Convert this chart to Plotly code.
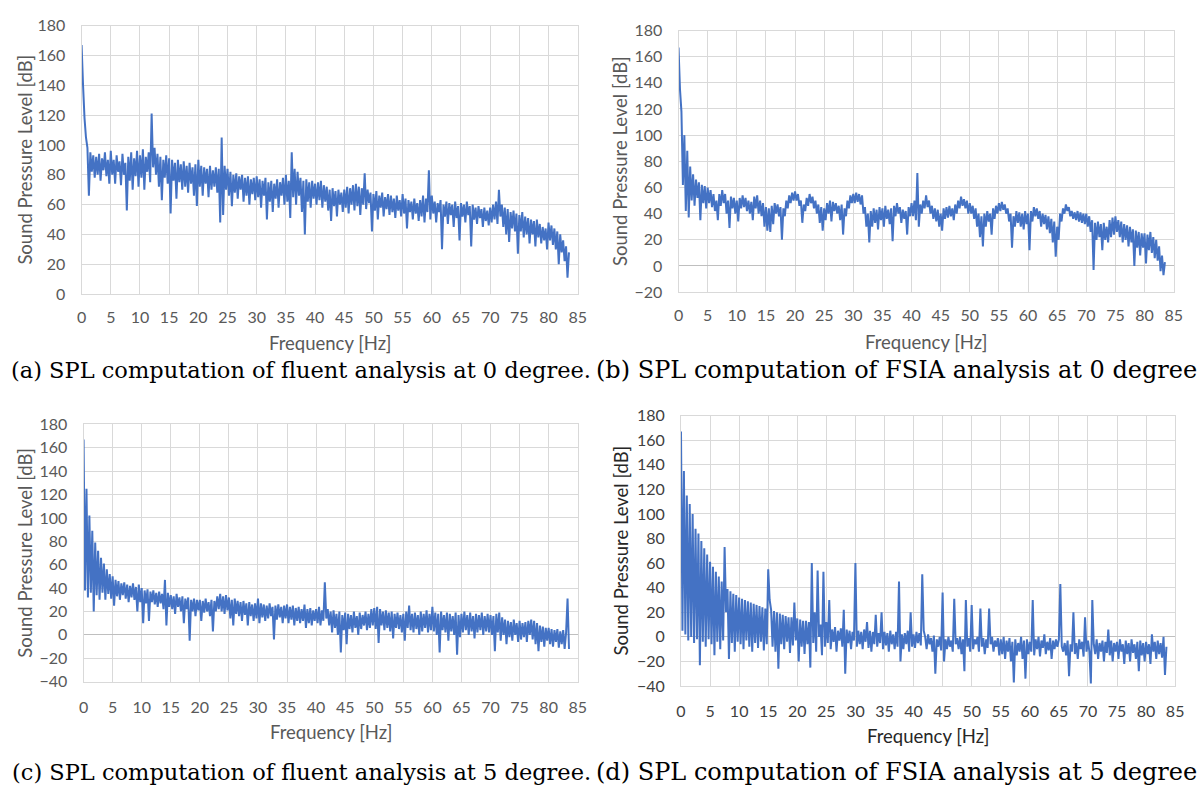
import plotly.graph_objects as go

W, H = 1197, 799
FREQ_STEP = 0.25  # Hz between read-off samples

# ---------------- data (SPL in dB, one value every 0.25 Hz, 0 .. 83.5 Hz) ----------------
spl_a = [
    167, 140, 118, 105, 98, 66, 95, 82, 93, 78, 92, 80, 94, 76, 91, 83, 95, 79, 90, 74,   # 0-5
    96, 80, 90, 74, 93, 82, 89, 73, 94, 80, 88, 56, 92, 76, 95, 70, 91, 79, 96, 72,       # 5-10
    93, 78, 97, 70, 92, 82, 95, 75, 121, 85, 98, 80, 94, 72, 92, 63, 90, 78, 93, 74,      # 10-15
    91, 54, 90, 76, 88, 64, 90, 75, 87, 70, 89, 72, 86, 68, 88, 74, 85, 66, 87, 59,       # 15-20
    90, 72, 86, 66, 85, 74, 84, 65, 86, 70, 83, 72, 85, 68, 84, 48, 105, 53, 86, 70,      # 20-25
    84, 66, 82, 59, 80, 68, 81, 64, 79, 70, 80, 62, 78, 66, 79, 60, 77, 67, 78, 63,       # 25-30
    79, 65, 77, 58, 76, 66, 78, 50, 75, 62, 76, 55, 74, 64, 77, 58, 75, 66, 78, 60,       # 30-35
    80, 62, 76, 51, 95, 65, 84, 60, 82, 66, 78, 55, 76, 40, 77, 62, 75, 58, 76, 64,       # 35-40
    74, 60, 75, 63, 76, 58, 73, 62, 72, 56, 70, 49, 71, 59, 69, 52, 70, 60, 68, 55,       # 40-45
    70, 58, 72, 54, 71, 60, 73, 56, 74, 59, 72, 53, 71, 60, 81, 57, 70, 61, 68, 42,       # 45-50
    67, 56, 69, 50, 66, 58, 68, 52, 65, 57, 67, 53, 66, 55, 64, 51, 66, 56, 63, 52,       # 50-55
    67, 54, 64, 44, 63, 55, 62, 50, 64, 54, 61, 49, 63, 52, 66, 48, 64, 55, 83, 50,       # 55-60
    66, 54, 62, 48, 61, 55, 63, 30, 60, 52, 62, 47, 61, 53, 60, 45, 62, 51, 59, 36,       # 60-65
    61, 52, 60, 48, 62, 53, 59, 32, 60, 50, 58, 47, 59, 51, 57, 45, 58, 49, 56, 46,       # 65-70
    58, 48, 60, 50, 62, 47, 70, 52, 60, 45, 58, 40, 57, 35, 55, 44, 56, 42, 54, 27,       # 70-75
    53, 42, 55, 38, 52, 40, 51, 34, 50, 40, 49, 32, 50, 38, 47, 34, 45, 36, 44, 30,       # 75-80
    48, 36, 46, 33, 44, 30, 42, 20, 40, 28, 36, 22, 32, 11, 28,                           # 80-83.5
]

spl_b = [
    167, 135, 118, 62, 100, 42, 88, 37, 76, 50, 70, 46, 66, 52, 64, 35, 62, 48, 61, 44,
    60, 48, 58, 45, 55, 42, 50, 35, 55, 46, 58, 48, 55, 40, 50, 29, 53, 44, 52, 40,
    50, 34, 52, 44, 54, 45, 52, 42, 50, 40, 49, 35, 53, 44, 54, 40, 50, 38, 48, 30,
    45, 27, 44, 26, 46, 32, 48, 40, 47, 38, 45, 20, 44, 38, 50, 44, 54, 48, 56, 50,
    57, 50, 55, 46, 50, 33, 47, 42, 52, 46, 55, 48, 53, 44, 50, 40, 47, 33, 45, 27,
    44, 35, 48, 40, 50, 34, 49, 42, 48, 40, 46, 35, 47, 24, 44, 38, 50, 44, 54, 48,
    55, 48, 56, 49, 55, 47, 54, 40, 45, 30, 40, 18, 42, 30, 44, 33, 43, 28, 45, 35,
    44, 30, 46, 36, 43, 32, 44, 19, 46, 38, 48, 40, 45, 33, 43, 36, 42, 24, 45, 38,
    48, 38, 50, 35, 71, 30, 47, 40, 50, 44, 54, 45, 50, 40, 46, 36, 44, 34, 43, 30,
    40, 27, 44, 36, 45, 37, 46, 38, 44, 35, 47, 40, 50, 44, 53, 46, 51, 44, 50, 40,
    48, 40, 46, 36, 44, 30, 40, 22, 38, 15, 40, 30, 42, 34, 40, 24, 44, 36, 46, 40,
    48, 42, 49, 43, 47, 40, 44, 34, 40, 14, 38, 30, 42, 33, 41, 30, 40, 28, 42, 32,
    40, 12, 42, 34, 45, 38, 44, 36, 42, 30, 40, 32, 39, 28, 38, 25, 36, 18, 34, 7,
    30, 20, 40, 34, 44, 40, 47, 42, 45, 38, 42, 36, 41, 35, 42, 34, 41, 33, 40, 32,
    40, 30, 38, 26, 35, -3, 33, 20, 34, 22, 32, 12, 33, 20, 30, 18, 35, 22, 37, 24,
    38, 26, 35, 22, 34, 18, 32, 20, 31, 15, 30, 18, 28, 0, 27, 14, 26, 8, 25, 14,
    25, 2, 24, 12, 26, 10, 22, 6, 20, 4, 15, -4, 8, -7, 3,
]

spl_c = [
    167, 38, 125, 32, 102, 36, 89, 20, 79, 34, 72, 30, 66, 36, 61, 30, 56, 35, 52, 31,
    50, 25, 47, 33, 46, 30, 44, 34, 45, 31, 43, 28, 42, 32, 44, 30, 41, 20, 43, 28,
    40, 10, 38, 27, 39, 12, 37, 28, 38, 26, 36, 24, 37, 27, 35, 22, 47, 8, 36, 24,
    34, 22, 33, 18, 35, 24, 32, 20, 33, 10, 31, 22, 32, -5, 30, 20, 31, 16, 30, 21,
    30, 12, 29, 19, 31, 20, 28, 16, 30, 3, 29, 20, 33, 22, 35, 20, 33, 18, 34, 21,
    32, 14, 30, 8, 31, 18, 29, 16, 28, 12, 29, 17, 27, 8, 28, 16, 26, 12, 27, 14,
    31, 10, 27, 15, 26, 12, 25, 14, 27, 16, 24, -4, 25, 13, 26, 15, 24, 10, 25, 14,
    26, 10, 24, 13, 25, 8, 23, 12, 24, 10, 22, 12, 26, 6, 22, 10, 23, 8, 21, 12,
    22, 10, 24, 8, 21, 12, 45, 14, 22, 8, 20, 2, 21, 6, 18, 0, 20, -15, 17, 4,
    19, -8, 18, 5, 17, 2, 20, 6, 16, 0, 19, 5, 17, 8, 20, 4, 18, 6, 22, 8,
    23, 5, 24, -7, 22, 8, 20, 4, 21, 6, 19, 3, 20, -3, 18, 6, 19, 5, 17, 2,
    18, -5, 20, 6, 25, 4, 18, 2, 19, 5, 17, 0, 20, 3, 18, 6, 21, 2, 18, 4,
    24, 3, 19, 0, 18, -15, 20, 4, 17, 2, 19, -5, 18, 3, 16, 0, 19, -17, 17, -2,
    18, 2, 20, 4, 17, 0, 19, 3, 16, -3, 18, 2, 17, 4, 19, 0, 16, 3, 18, 2,
    17, 0, 16, -14, 18, 2, 19, -5, 15, 0, 13, -8, 12, -2, 11, -5, 13, 0, 10, -6,
    12, -4, 10, -2, 11, -6, 12, 0, 13, -4, 12, -8, 10, -14, 8, -6, 7, -10, 6, -5,
    6, -8, 5, -10, 4, -6, 5, -11, 3, -8, 4, -12, 2, 31, -12,
]

spl_d = [
    167, 5, 135, 2, 115, -3, 108, 0, 100, -5, 88, -2, 84, -23, 78, -4, 72, -8, 67, -2,
    61, -6, 57, -15, 53, -4, 49, -10, 45, -3, 73, 20, 39, -18, 37, -5, 35, -12, 34, -4,
    32, -6, 31, -10, 30, -3, 29, -8, 28, -12, 27, -5, 26, -9, 25, -4, 24, -11, 23, -6,
    55, 30, 22, -8, 21, -12, 20, -26, 19, -6, 18, -10, 17, -4, 16, -13, 16, -7, 28, -3,
    15, -20, 14, -8, 13, -14, 13, -6, 12, -25, 60, -5, 20, -12, 54, 0, 10, -15, 53, -8,
    12, -5, 30, -10, 6, -4, 8, -12, 5, -3, 7, -8, 22, -30, 6, -5, 5, -10, 4, -3,
    60, -8, 5, -6, 4, -10, 6, -4, 12, -9, 5, -12, 4, -6, 18, -8, 3, -5, 20, -10,
    4, -7, 3, -12, 5, -6, 2, -10, 4, -8, 45, -20, 2, -10, 3, -6, 5, -12, 20, -8,
    2, -9, 4, -5, 3, -7, 51, 5, 0, -10, 2, -6, -1, -12, 1, -30, -2, -8, 0, -11,
    36, -20, -2, -10, 0, -8, -3, -12, 31, -6, -1, -10, 0, -14, -2, -28, 30, -8, -1, -12,
    26, -10, -2, -6, 0, -12, 23, -8, -1, -14, -2, -9, 23, -6, 0, -12, -3, -8, -1, -15,
    -2, -14, 0, -18, -3, -12, -1, -20, -4, -37, -2, -15, -5, -12, 0, -18, -3, -34, -2, -14,
    -4, -12, 30, -15, -2, -10, 0, -16, -3, -9, 2, -14, -4, -11, -1, -18, -3, -10, -2, -8,
    -2, 43, -8, -12, -5, -15, -3, -32, -6, -12, 20, -14, -5, -18, -2, -10, -4, -16, 16, -12,
    -3, -12, -38, 30, -6, -14, -2, -18, -5, -12, -3, -20, -4, -13, 6, -15, -3, -20, -5, -12,
    -4, -18, -2, -12, -6, -22, -3, -14, -5, -20, -2, -13, -6, -18, -4, -28, -3, -15, -5, -20,
    -4, -14, -6, -22, 2, -12, -4, -18, -3, -14, -5, -17, 0, -31, -8,
]

for s in (spl_a, spl_b, spl_c, spl_d):
    assert len(s) == 335, len(s)

x_ticks = [0, 5, 10, 15, 20, 25, 30, 35, 40, 45, 50, 55, 60, 65, 70, 75, 80, 85]
y_ticks_a = [0, 20, 40, 60, 80, 100, 120, 140, 160, 180]
y_ticks_b = [-20, 0, 20, 40, 60, 80, 100, 120, 140, 160, 180]
y_ticks_cd = [-40, -20, 0, 20, 40, 60, 80, 100, 120, 140, 160, 180]

x_title = "Frequency [Hz]"
y_title = "Sound Pressure Level [dB]"
captions = [
    "(a) SPL computation of fluent analysis at 0 degree.",
    "(b) SPL computation of FSIA analysis at 0 degree",
    "(c) SPL computation of fluent analysis at 5 degree.",
    "(d) SPL computation of FSIA analysis at 5 degree",
]

# ---------------- layout (pixel boxes) ----------------
def px_x(p):
    return p / W


def px_y(p):
    return 1 - p / H


panels = [
    dict(data=spl_a, box=(77.5, 16, 579.5, 291), yr=(0, 180), yt=y_ticks_a, zero=False,
         tcol="#595959", titlecol="#595959", xt_y=341, yt_x=20, cap=(300, 369), capsize=22.5, xlen=9),
    dict(data=spl_b, box=(681.5, 21, 1182.5, 289), yr=(-20, 180), yt=y_ticks_b, zero=True,
         tcol="#595959", titlecol="#595959", xt_y=340, yt_x=623, cap=(902, 369), capsize=24, xlen=9),
    dict(data=spl_c, box=(79.5, 424.5, 579.5, 688), yr=(-40, 180), yt=y_ticks_cd, zero=True,
         tcol="#595959", titlecol="#595959", xt_y=740, yt_x=20, cap=(300, 781), capsize=22.5, xlen=11),
    dict(data=spl_d, box=(684, 415.5, 1184, 692.5), yr=(-40, 180), yt=y_ticks_cd, zero=True,
         tcol="#404040", titlecol="#262626", xt_y=744, yt_x=623, cap=(902, 781), capsize=24, xlen=11),
]

GRID = "#D9D9D9"
FONT = "Lato"
fig = go.Figure()
annotations = []

for i, p in enumerate(panels, start=1):
    suffix = "" if i == 1 else str(i)
    freq = [round(k * FREQ_STEP, 2) for k in range(len(p["data"]))]
    fig.add_trace(go.Scatter(
        x=freq, y=p["data"], mode="lines",
        line=dict(color="#4472C4", width=2, simplify=False),
        xaxis="x" + suffix, yaxis="y" + suffix,
        showlegend=False, hoverinfo="skip",
    ))
    x0, y0, x1, y1 = p["box"]
    fig.layout["xaxis" + suffix] = dict(
        domain=[px_x(x0), px_x(x1)], anchor="y" + suffix, range=[0, 85],
        tickmode="array", tickvals=x_ticks, showgrid=True, gridcolor=GRID, gridwidth=1,
        zeroline=False, showline=True, linecolor=GRID, linewidth=1, mirror=True,
        ticks="outside", ticklen=p["xlen"], tickcolor="rgba(0,0,0,0)",
        tickfont=dict(family=FONT, size=16, color=p["tcol"]), fixedrange=True,
    )
    fig.layout["yaxis" + suffix] = dict(
        domain=[px_y(y1), px_y(y0)], anchor="x" + suffix, range=list(p["yr"]),
        tickmode="array", tickvals=p["yt"], showgrid=True, gridcolor=GRID, gridwidth=1,
        zeroline=p["zero"], zerolinecolor="#BFBFBF", zerolinewidth=1,
        showline=True, linecolor=GRID, linewidth=1, mirror=True,
        ticks="outside", ticklen=12, tickcolor="rgba(0,0,0,0)",
        tickfont=dict(family=FONT, size=16, color=p["tcol"]), fixedrange=True,
    )
    # axis titles
    annotations.append(dict(
        text=x_title, x=px_x((x0 + x1) / 2), y=px_y(p["xt_y"]), xref="paper", yref="paper",
        xanchor="center", yanchor="middle", showarrow=False,
        font=dict(family=FONT, size=18.5, color=p["titlecol"]),
    ))
    annotations.append(dict(
        text=y_title, x=px_x(p["yt_x"]), y=px_y((y0 + y1) / 2), xref="paper", yref="paper",
        xanchor="center", yanchor="middle", showarrow=False, textangle=-90,
        font=dict(family=FONT, size=18.5, color=p["titlecol"]),
    ))
    cx, cy = p["cap"]
    annotations.append(dict(
        text=captions[i - 1], x=px_x(cx), y=px_y(cy), xref="paper", yref="paper",
        xanchor="center", yanchor="middle", showarrow=False,
        font=dict(family="DejaVu Serif", size=p["capsize"], color="#000000"),
    ))

fig.update_layout(
    width=W, height=H, margin=dict(l=0, r=0, t=0, b=0),
    paper_bgcolor="white", plot_bgcolor="white",
    annotations=annotations, showlegend=False,
)

fig.write_html("out.html", include_plotlyjs=True, config=dict(displayModeBar=False))
